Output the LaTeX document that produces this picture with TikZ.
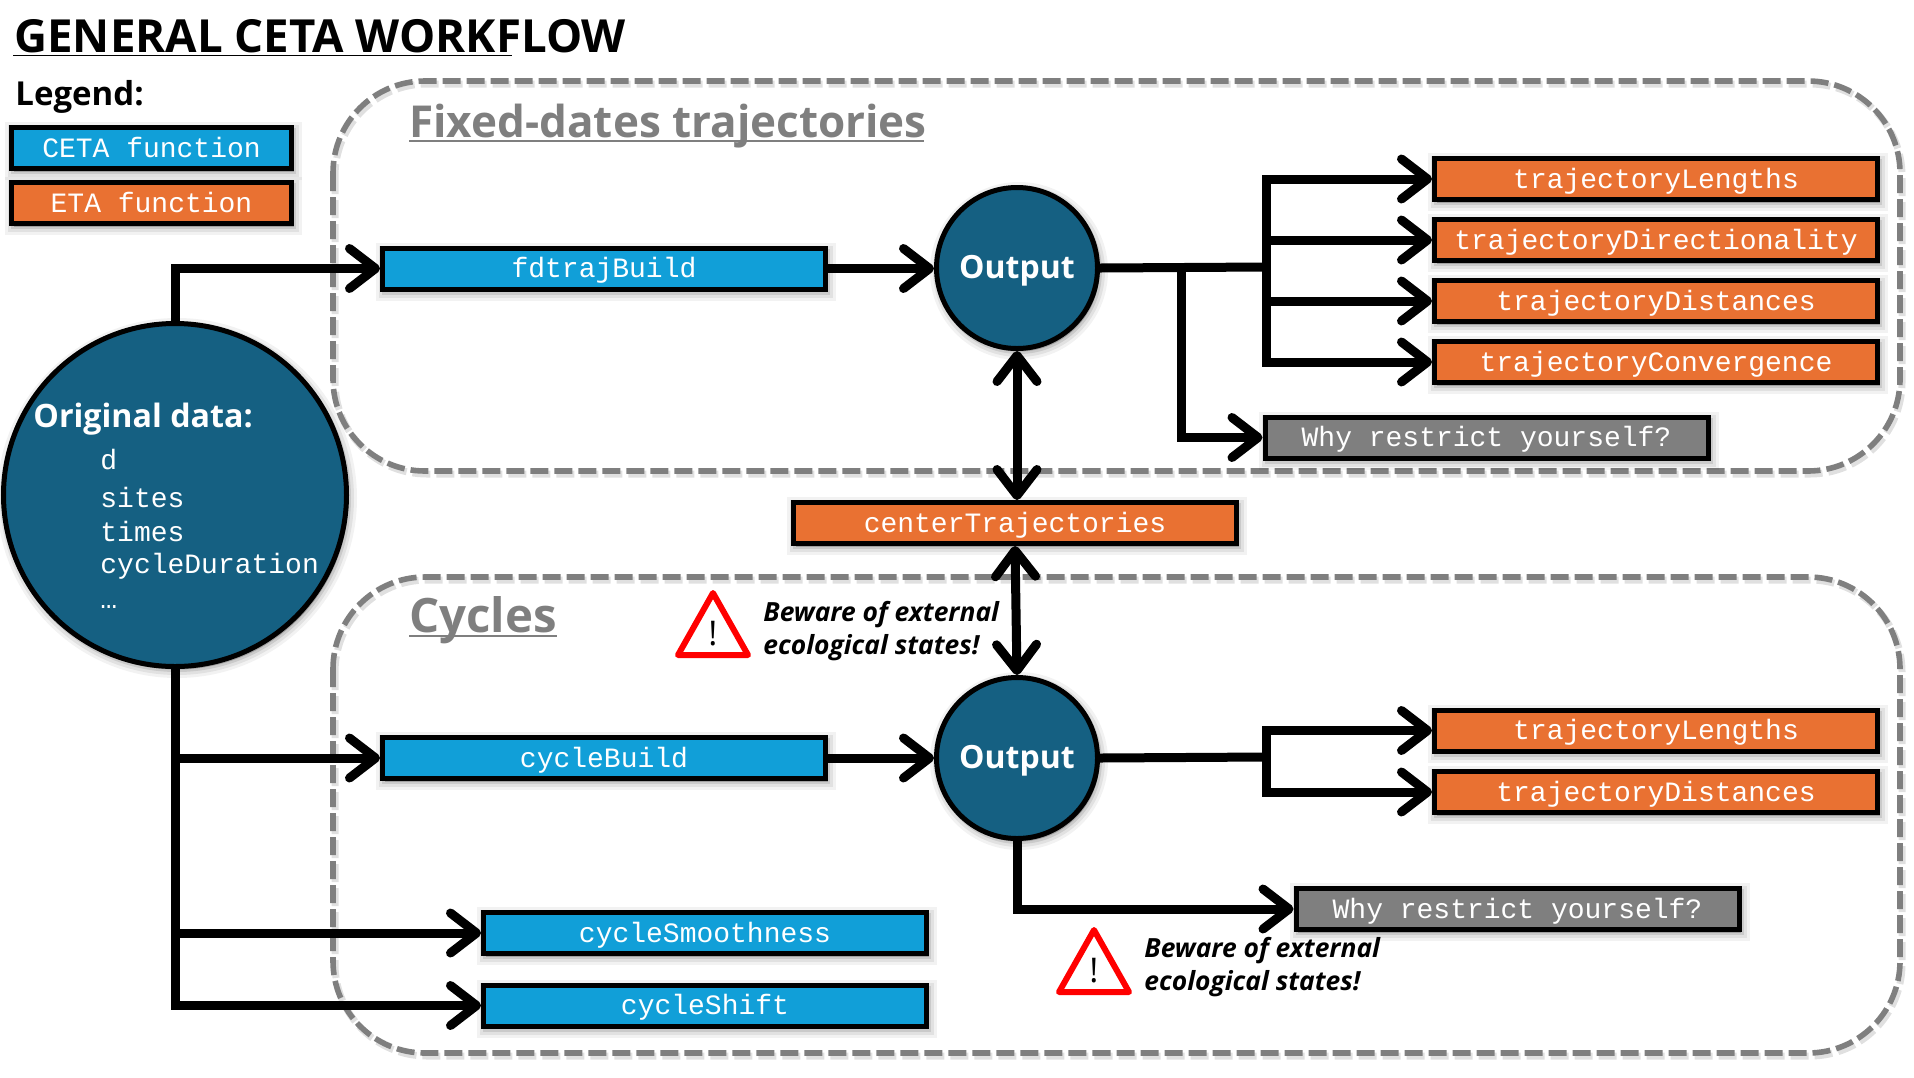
\documentclass[tikz,border=0pt]{standalone}
\usepackage{fontspec}
\setmainfont{Open Sans}
\setmonofont{Liberation Mono}
\usetikzlibrary{arrows.meta,shapes.geometric}
\definecolor{cetablue}{HTML}{119FD8}
\definecolor{etaorange}{HTML}{E97132}
\definecolor{circblue}{HTML}{156082}
\definecolor{whygray}{HTML}{7F7F7F}
\tikzset{
  softshadow/.style={
    preaction={draw=black,fill=black,draw opacity=.05,fill opacity=.05,line width=#1+6pt,transform canvas={shift={(1pt,-1.5pt)}}},
    preaction={draw=black,fill=black,draw opacity=.07,fill opacity=.07,line width=#1+3pt,transform canvas={shift={(1pt,-1.5pt)}}},
    preaction={draw=black,fill=black,draw opacity=.10,fill opacity=.10,line width=#1,transform canvas={shift={(1pt,-1.5pt)}}}},
  funcbox/.style={draw=black,line width=2.5pt,fill=#1,text=white,minimum width=221.5pt,minimum height=20.5pt,inner sep=0pt,
    text height=11pt,text depth=2pt,font=\ttfamily\fontsize{14}{14}\selectfont,softshadow=2.5pt},
  circ/.style={circle,draw=black,line width=2.5pt,fill=circblue,inner sep=0pt,softshadow=2.5pt},
  group/.style={draw=whygray,line width=2.8pt,dash pattern=on 9pt off 3pt,rounded corners=46pt},
  groupshadow/.style={draw=black,draw opacity=.12,line width=3.5pt,rounded corners=46pt,dash pattern=on 9pt off 3pt},
  flow/.style={draw=black,line width=4.5pt,line join=miter},
  toarrow/.style={flow,-{Straight Barb[round,length=13pt,width=20pt]}},
  bothway/.style={flow,{Straight Barb[round,length=13pt,width=20pt]}-{Straight Barb[round,length=13pt,width=20pt]}},
  warn/.style={draw=red,line width=3pt,line join=round,fill=white},
  beware/.style={anchor=base west,inner sep=0pt,font=\fontsize{13.2}{16}\selectfont\bfseries\itshape},
  head/.style={anchor=base west,inner sep=0pt,text=whygray,font=\fontsize{22}{24}\selectfont\bfseries},
  outlab/.style={text=white,font=\fontsize{16}{18}\selectfont\bfseries},
  datamono/.style={anchor=base west,inner sep=0pt,text=white,font=\ttfamily\fontsize{14}{14}\selectfont},
  excl/.style={inner sep=0pt,font=\fontsize{17}{17}\selectfont},
}
\begin{document}
\begin{tikzpicture}[x=.5pt,y=-.5pt]
\useasboundingbox (0,0) rectangle (1914,1077);

% group frames
\draw[groupshadow] (335,84) rectangle (1902,474);
\draw[groupshadow] (335,580) rectangle (1902,1056);
\draw[group] (333,81) rectangle (1900,471);
\draw[group] (333,577) rectangle (1900,1053);

% title + legend
\node[anchor=base west,inner sep=0pt,font=\fontsize{22.8}{25}\selectfont\bfseries] (title) at (14,52) {GENERAL CETA WORKFLOW};
\coordinate (ulA) at (13,55.5);
\coordinate (ulB) at (512,55.5);
\draw[line width=.7pt] (ulA) -- (ulB);
\node[anchor=base west,inner sep=0pt,font=\fontsize{16.5}{17}\selectfont\bfseries] (legend) at (15,105) {Legend:};
\node[funcbox=cetablue,minimum width=140pt] (lgC) at (151.5,148) {CETA function};
\node[funcbox=etaorange,minimum width=140pt] (lgE) at (151.5,203) {ETA function};

\node[head] (fixedlab) at (409,137) {Fixed-dates trajectories};
\coordinate (ufA) at (409,141);
\coordinate (ufB) at (924,141);
\draw[whygray,line width=.7pt] (ufA) -- (ufB);
\node[head,font=\fontsize{23.7}{24}\selectfont\bfseries] (cyclab) at (409,632) {Cycles};
\coordinate (ucA) at (409,636);
\coordinate (ucB) at (557,636);
\draw[whygray,line width=.7pt] (ucA) -- (ucB);

% nodes
\node[circ,minimum size=171.5pt] (data) at (175,495) {};
\node[circ,minimum size=80.5pt] (out1) at (1017,268) {};
\node[circ,minimum size=80.5pt] (out2) at (1017,758) {};
\node[outlab,yshift=-1.4pt] at (out1) {Output};
\node[outlab,yshift=-1.4pt] at (out2) {Output};

\node[funcbox=cetablue] (fd) at (604,268.5) {fdtrajBuild};
\node[funcbox=cetablue] (cb) at (604,758) {cycleBuild};
\node[funcbox=cetablue] (cs) at (705,933) {cycleSmoothness};
\node[funcbox=cetablue] (csh) at (705,1005.5) {cycleShift};
\node[funcbox=etaorange] (ct) at (1015,523) {centerTrajectories};

\node[funcbox=etaorange] (t1) at (1656,179) {trajectoryLengths};
\node[funcbox=etaorange] (t2) at (1656,240) {trajectoryDirectionality};
\node[funcbox=etaorange] (t3) at (1656,301) {trajectoryDistances};
\node[funcbox=etaorange] (t4) at (1656,362) {trajectoryConvergence};
\node[funcbox=whygray] (w1) at (1486.5,437.5) {Why restrict yourself?};
\node[funcbox=etaorange] (u1) at (1656,730.5) {trajectoryLengths};
\node[funcbox=etaorange] (u2) at (1656,792) {trajectoryDistances};
\node[funcbox=whygray] (w2) at (1517.5,909) {Why restrict yourself?};

% original data text
\node[anchor=base west,inner sep=0pt,text=white,font=\fontsize{16.1}{18}\selectfont\bfseries] (dh) at (33,427) {Original data:};
\node[datamono] (d1) at (100,469) {d};
\node[datamono] (d2) at (100,507) {sites};
\node[datamono] (d3) at (100,541) {times};
\node[datamono] (d4) at (100,573) {cycleDuration};
\node[datamono] (d5) at (100,608) {…};

% connectors
\coordinate (b1) at (1266,267);
\coordinate (b2) at (1181,267);
\coordinate (b3) at (1266,757);
\draw[toarrow] (data.north) |- (fd.west);
\draw[toarrow] (fd.east) -- (fd.east -| out1.west);
\draw[toarrow] (cb.east) -- (cb.east -| out2.west);
\draw[flow] (out1.east) -- (b1);
\draw[toarrow] (b1) |- (t1.west);
\draw[toarrow] (b1) |- (t2.west);
\draw[toarrow] (b1) |- (t3.west);
\draw[toarrow] (b1) |- (t4.west);
\draw[toarrow] (b2) |- (w1.west);
\draw[bothway] (out1.south) -- (ct.north -| out1.south);
\draw[bothway] (ct.south) -- (out2.north);
\draw[flow] (out2.east) -- (b3);
\draw[toarrow] (b3) |- (u1.west);
\draw[toarrow] (b3) |- (u2.west);
\draw[toarrow] (out2.south) |- (w2.west);
\draw[toarrow] (data.south) |- (cb.west);
\draw[toarrow] (data.south) |- (cs.west);
\draw[toarrow] (data.south) |- (csh.west);

% warnings
\draw[warn] (713,593) -- (748,655) -- (678,655) -- cycle;
\node[excl] (ex1) at (713,634) {!};
\node[beware] (b1t1) at (763,621) {Beware of external};
\node[beware] (b1t2) at (763,654) {ecological states!};
\draw[warn] (1094,930) -- (1129,992) -- (1059,992) -- cycle;
\node[excl] (ex2) at (1094,971) {!};
\node[beware] (b2t1) at (1144,957) {Beware of external};
\node[beware] (b2t2) at (1144,990) {ecological states!};
\end{tikzpicture}
\end{document}
